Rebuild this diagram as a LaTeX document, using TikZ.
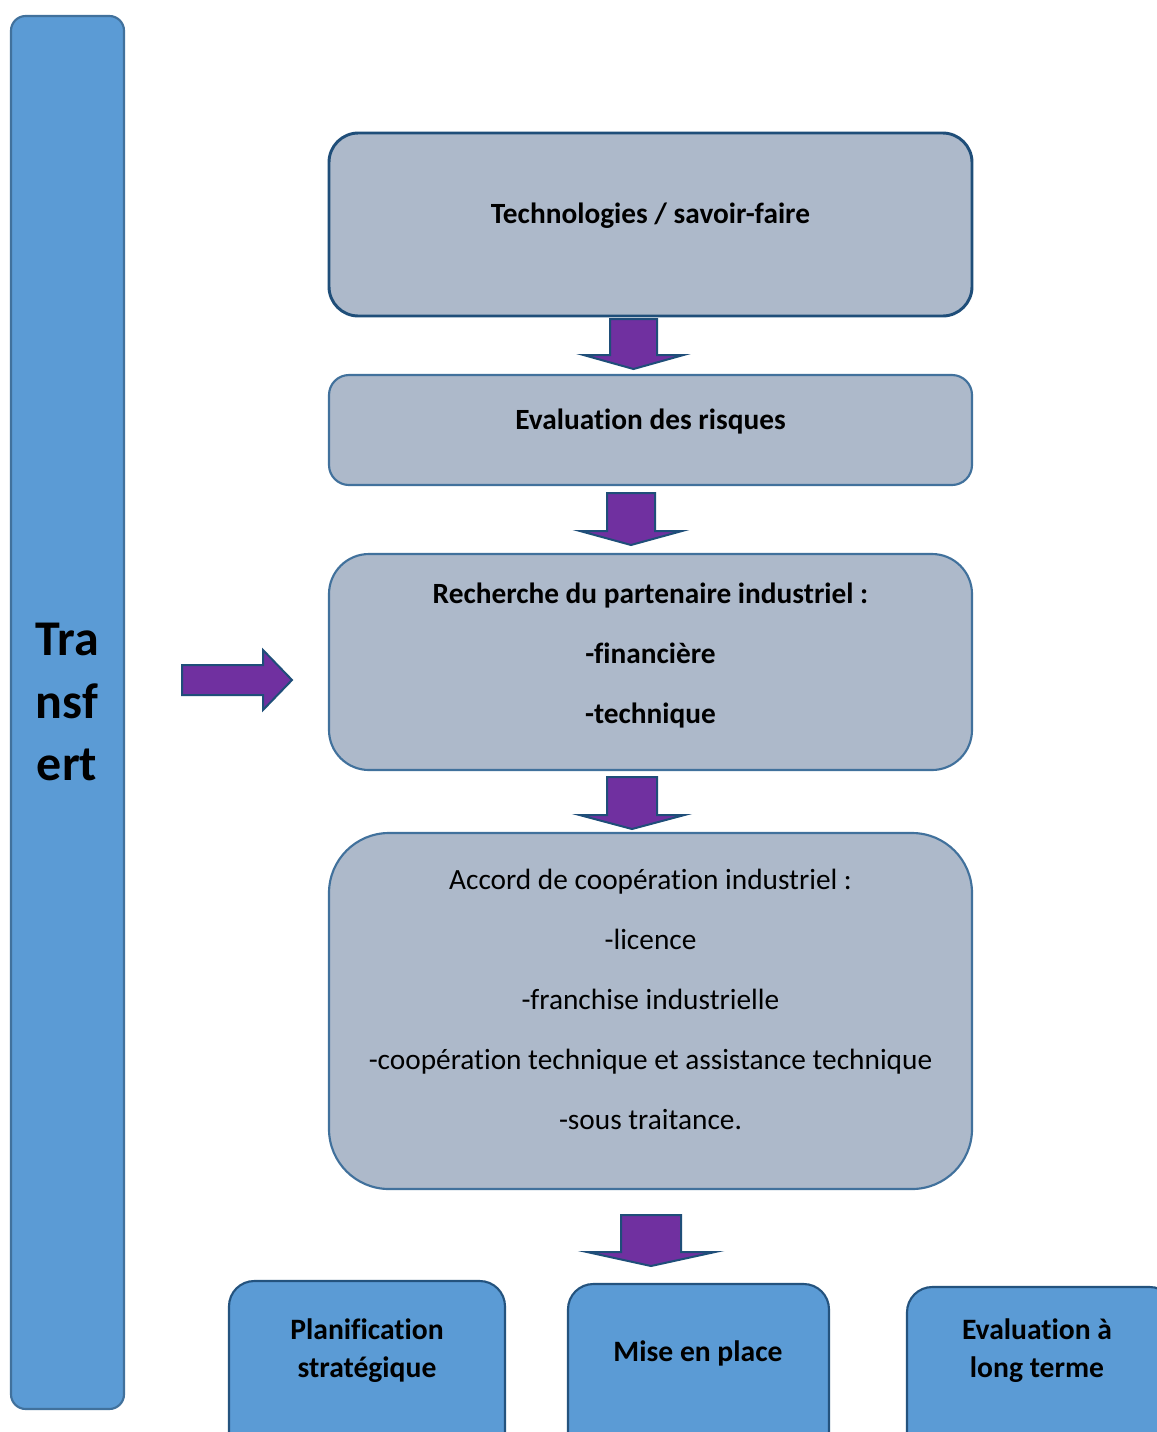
\documentclass[tikz,border=0pt]{standalone}
\usepackage{fontspec}
\setmainfont[Ligatures=NoCommon]{Carlito}
\usetikzlibrary{fit}

\definecolor{stepfill}{HTML}{ADB9CA}
\definecolor{stepline}{HTML}{41719C}
\definecolor{darkline}{HTML}{1F4E79}
\definecolor{bluefill}{HTML}{5B9BD5}
\definecolor{arrowfill}{HTML}{7030A0}

\tikzset{
  stepbox/.style={draw=stepline, line width=1.6pt, fill=stepfill, inner sep=0pt},
  bluebox/.style={draw=stepline, line width=1.6pt, fill=bluefill, inner sep=0pt},
  blockarr/.style={draw=darkline, line width=1.5pt, fill=arrowfill, line join=miter},
  steptext/.style={inner sep=0pt, align=center, font=\fontsize{22}{45}\selectfont},
  boldtext/.style={steptext, font=\fontsize{22}{45}\selectfont\bfseries},
  bottomtext/.style={inner sep=0pt, align=center, font=\fontsize{22.2}{28.5}\selectfont\bfseries},
  sidetext/.style={inner sep=0pt, align=center, font=\fontsize{37.5}{47}\selectfont\bfseries},
}

% downward block arrow: centre x, shaft top, head base, tip, shaft half width, head half width
\newcommand\blockdown[6]{%
  \draw[blockarr] (#1-#5,#2) -- (#1+#5,#2) -- (#1+#5,#3) -- (#1+#6,#3)
    -- (#1,#4) -- (#1-#6,#3) -- (#1-#5,#3) -- cycle;}

\begin{document}
\begin{tikzpicture}[x=0.75pt,y=-0.75pt]
\clip (0,0) rectangle (1157,1432);
\fill[white] (0,0) rectangle (1157,1432);

% side bar
\node[bluebox, rounded corners=11pt, fit={(11,16) (124,1409)}] (side) {};
\node[sidetext] (sideT) at (67,702) {Tra\\nsf\\ert};

% main column
\node[stepbox, draw=darkline, line width=2.2pt, rounded corners=22pt, fit={(329,133) (972,316)}] (tech) {};
\node[boldtext] (techT) at (650.5,216) {Technologies / savoir-faire};

\node[stepbox, rounded corners=15pt, fit={(329,375) (972,485)}] (risk) {};
\node[boldtext] (riskT) at (650.5,422) {Evaluation des risques};

\node[stepbox, rounded corners=30pt, fit={(329,554) (972,770)}] (partner) {};
\node[boldtext] (partnerT) at (650.5,656) {Recherche du partenaire industriel :\\-financière\\-technique};

\node[stepbox, rounded corners=45pt, fit={(329,833) (972,1189)}] (accord) {};
\node[steptext] (accordT) at (650.5,999) {Accord de coopération industriel :\\-licence\\-franchise industrielle\\-coopération technique et assistance technique\\-sous traitance.};

% bottom row
\node[bluebox, draw=darkline!85!stepline, rounded corners=19pt, fit={(229,1281) (505,1470)}] (plan) {};
\node[bottomtext] (planT) at (367,1351) {Planification\\stratégique};
\node[bluebox, draw=darkline!85!stepline, rounded corners=19pt, fit={(568,1284) (829,1470)}] (mise) {};
\node[bottomtext] (miseT) at (698,1353) {Mise en place};
\node[bluebox, draw=darkline!85!stepline, rounded corners=19pt, fit={(907,1287) (1175,1470)}] (evallt) {};
\node[bottomtext] (evalltT) at (1037,1351) {Evaluation à\\long terme};

% block arrows between the steps
\blockdown{633.5}{319}{355}{369}{23.5}{50}
\blockdown{631}{493}{531}{545}{24}{51}
\blockdown{632}{777}{815}{829}{25}{52.5}
\blockdown{651}{1215}{1252}{1266}{30}{64}

% arrow from the side bar towards the partner search
\draw[blockarr] (182,665) -- (263,665) -- (263,650) -- (292,680) -- (263,710)
  -- (263,695) -- (182,695) -- cycle;
\end{tikzpicture}
\end{document}
